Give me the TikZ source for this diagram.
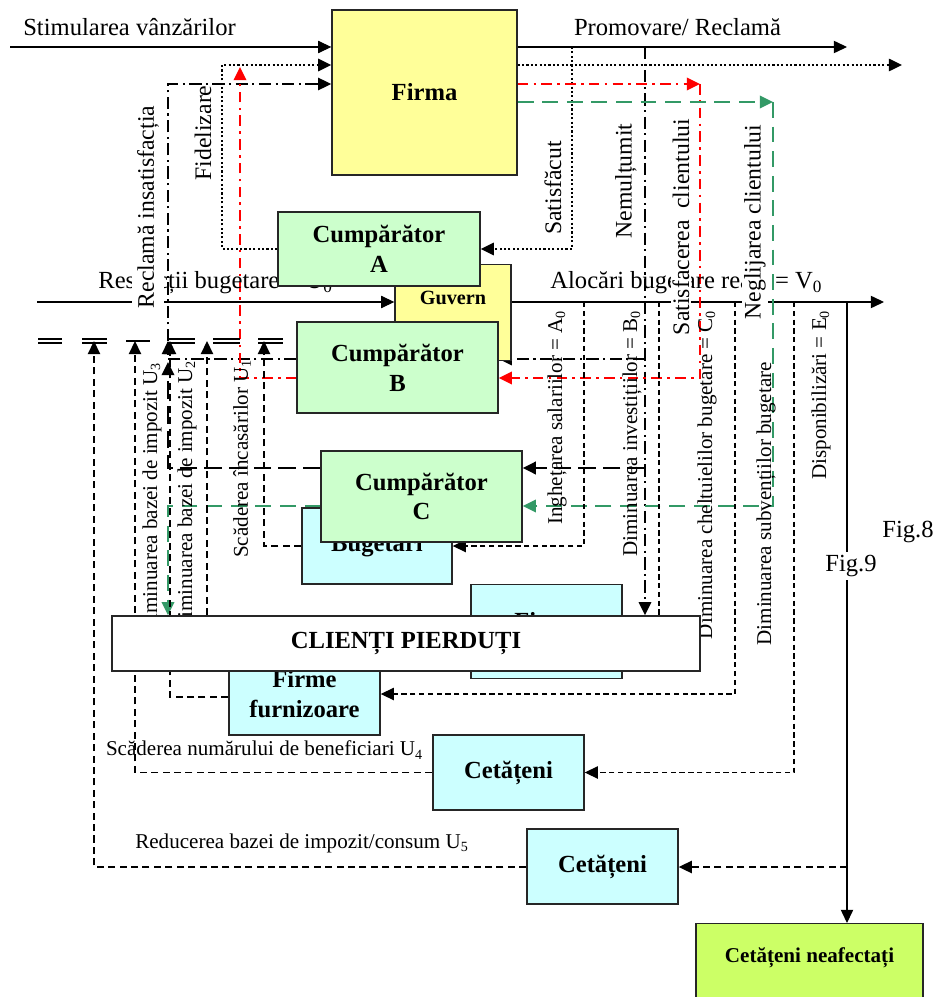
\documentclass[tikz,border=0pt]{standalone}
\usepackage{fontspec}
\setmainfont{Liberation Serif}
\usetikzlibrary{arrows.meta, backgrounds}
\definecolor{firmyellow}{RGB}{255,255,153}
\definecolor{buyergreen}{RGB}{204,255,204}
\definecolor{lostcyan}{RGB}{204,255,255}
\definecolor{safelime}{RGB}{204,255,102}
\definecolor{neglgreen}{RGB}{51,153,102}
\definecolor{satred}{RGB}{255,0,0}

\begin{document}
\begin{tikzpicture}[x=0.02cm, y=-0.02cm,
  bigtxt/.style={font=\fontsize{14}{16}\selectfont},
  smalltxt/.style={font=\fontsize{12}{14}\selectfont},
  vlbl/.style={rotate=90, inner sep=1pt, font=\fontsize{13.5}{15}\selectfont},
  vlblsm/.style={rotate=90, inner sep=1pt, font=\fontsize{12}{14}\selectfont},
  box/.style={draw=black!85, line width=0.8pt, align=center, font=\fontsize{14}{17}\selectfont\bfseries},
  ybox/.style={box, fill=firmyellow},
  gbox/.style={box, fill=buyergreen},
  cbox/.style={box, fill=lostcyan},
  tip/.style={-{Triangle[length=7.5pt, width=7pt]}},
  solidln/.style={line width=0.6pt},
  dotln/.style={line width=1.2pt, dash pattern=on 1.2pt off 1.3pt},
  dashdotln/.style={line width=1.2pt, dash pattern=on 7pt off 2.5pt on 1.2pt off 2.5pt},
  longdashln/.style={line width=1.6pt, dash pattern=on 10pt off 4pt},
  redln/.style={satred, line width=1.4pt, dash pattern=on 6pt off 3pt on 1.5pt off 3pt},
  greenln/.style={neglgreen, line width=1.5pt, dash pattern=on 9pt off 5pt},
  budgetln/.style={line width=0.7pt, dash pattern=on 3pt off 2pt},
  lossln/.style={line width=0.9pt, dash pattern=on 4pt off 2.5pt}
]
  \useasboundingbox (0,0) rectangle (933,997);

  % texts on the flows
  \node[bigtxt] (stimlbl) at (129.5,27) {Stimularea vânzărilor};
  \node[bigtxt] (promlbl) at (677.5,27) {Promovare/ Reclamă};
  \node[bigtxt, anchor=west, inner sep=0pt] (restrlbl) at (98,283) {Restricții bugetare = U\textsubscript{0}};
  \node[bigtxt, anchor=west, inner sep=0pt] (aloclbl) at (550,283) {Alocări bugetare reale = V\textsubscript{0}};
  \node[smalltxt] (u4lbl) at (264.5,750) {Scăderea numărului de beneficiari U\textsubscript{4}};
  \node[smalltxt] (u5lbl) at (302,843) {Reducerea bazei de impozit/consum U\textsubscript{5}};
  \node[bigtxt] (fig8) at (908,532) {Fig.8};

  \node[vlbl] (fidlbl) at (203,133) {Fidelizare};
  \node[vlbl] (satlbl) at (553,188) {Satisfăcut};
  \node[vlbl] (nemlbl) at (626,181) {Nemulțumit};
  \node[vlblsm, anchor=east] (a0lbl) at (557,308) {Inghețarea salariilor = A\textsubscript{0}};
  \node[vlblsm, anchor=east] (b0lbl) at (632,308) {Diminuarea investițiilor = B\textsubscript{0}};
  \node[vlblsm, anchor=east] (c0lbl) at (707,308) {Diminuarea cheltuielilor bugetare = C\textsubscript{0}};
  \node[vlblsm, anchor=east] (d0lbl) at (766,360) {Diminuarea subvențiilor bugetare};
  \node[vlblsm, anchor=east] (e0lbl) at (821,308) {Disponibilizări = E\textsubscript{0}};
  \node[vlblsm, anchor=east] (u3lbl) at (152,360) {Diminuarea bazei de impozit U\textsubscript{3}};
  \node[vlblsm, anchor=east] (u2lbl) at (187,358) {Diminuarea bazei de impozit U\textsubscript{2}};
  \node[vlblsm, anchor=east] (u1lbl) at (242,357) {Scăderea încasărilor U\textsubscript{1}};

  \node[vlbl, fill=white, inner sep=3pt] (reclbl) at (148,207) {Reclamă insatisfacția};
  \node[vlbl, fill=white] (sclbl) at (681,227) {Satisfacerea~ clientului};
  \node[vlbl, fill=white] (nclbl) at (755,222) {Neglijarea clientului};
  \node[bigtxt, fill=white, inner sep=2pt] (fig9) at (851,566) {Fig.9};

  % boxes
  \node[ybox, minimum width=3.7cm, minimum height=3.3cm] (firma) at (424.5,92.5) {Firma};
  \node[ybox, font=\fontsize{11.5}{13}\selectfont\bfseries, anchor=north, minimum width=2.32cm,
        inner ysep=0pt, text height=0.8cm, text depth=1.12cm] (guvern) at (453,264) {Guvern};
  \node[gbox, minimum width=4.04cm, minimum height=1.48cm] (cumpA) at (379,249) {Cumpărător\\A};
  \node[gbox, minimum width=4.02cm, minimum height=1.82cm] (cumpB) at (397.5,367.5) {Cumpărător\\B};
  \node[cbox, minimum width=3.0cm, minimum height=1.52cm] (bugetari) at (377,546) {Bugetari};
  \node[gbox, minimum width=4.02cm, minimum height=1.82cm] (cumpC) at (421.5,496.5) {Cumpărător\\C};
  \node[cbox, anchor=north, minimum width=3.02cm, inner ysep=0pt,
        text height=0.9cm, text depth=0.98cm] (firme) at (546.5,584) {Firme};
  \node[cbox, minimum width=3.02cm, minimum height=1.64cm] (furniz) at (304.5,694) {Firme\\furnizoare};
  \node[box, fill=white, minimum width=11.76cm, minimum height=1.1cm] (clienti) at (406,643.5) {CLIENȚI PIERDUȚI};
  \node[cbox, minimum width=3.02cm, minimum height=1.5cm] (cet1) at (508.5,772.5) {Cetățeni};
  \node[cbox, minimum width=3.02cm, minimum height=1.5cm] (cet2) at (602.5,866.5) {Cetățeni};
  \node[box, fill=safelime, font=\fontsize{12}{14}\selectfont\bfseries, anchor=north, minimum width=4.54cm,
        inner ysep=0pt, text height=0.78cm, text depth=0.9cm] (neafect) at (809.5,923) {Cetățeni neafectați};

  \begin{pgfonlayer}{background}
    % sales, promotion and budget
    \coordinate (stim) at (10,47);
    \coordinate (prom) at (847,47);
    \coordinate (restr) at (37,302);
    \coordinate (aloc) at (884,302);
    \draw[solidln, tip] (stim) -- (stim -| firma.west);
    \draw[solidln, tip] (firma.east |- prom) -- (prom);
    \draw[solidln, tip] (restr) -- (restr -| guvern.west);
    \draw[solidln, tip] (guvern.east |- aloc) -- (aloc);

    % loyalty
    \coordinate (dotend) at (902,65);
    \coordinate (fidc) at (222,65);
    \coordinate (satc) at (572,47);
    \draw[dotln, tip] (firma.east |- dotend) -- (dotend);
    \draw[dotln, tip] (cumpA.west) -| (fidc) -- (fidc -| firma.west);
    \draw[dotln, tip] (satc) |- (cumpA.east);

    % dissatisfaction
    \coordinate (recc) at (168,84);
    \coordinate (eqc) at (168,341);
    \coordinate (recB) at (168,359);
    \coordinate (recC) at (168,468);
    \coordinate (recCt) at (168,362);
    \draw[dashdotln, line width=0.9pt, tip] (eqc) -- (recc) -- (recc -| firma.west);
    \draw[dashdotln, line width=0.9pt, tip] (recB -| cumpB.west) -- (recB) -- (eqc);
    \draw[longdashln, tip] (recC -| cumpC.west) -- (recC) -- (recCt);
    \coordinate (nemc) at (645,47);
    \coordinate (nemB) at (645,359);
    \coordinate (nemC) at (645,468);
    \draw[dashdotln, tip] (nemc) -- (nemc |- clienti.north);
    \draw[dashdotln, tip] (nemB) -- (nemB -| cumpB.east);
    \draw[longdashln, tip] (nemC) -- (nemC -| cumpC.east);

    % satisfaction
    \coordinate (redc) at (700,84);
    \coordinate (redB) at (700,378);
    \coordinate (redL) at (240,378);
    \coordinate (redT) at (240,67);
    \draw[redln, tip] (firma.east |- redc) -- (redc);
    \draw[redln, tip] (redc) -- (redB) -- (redB -| cumpB.east);
    \draw[redln, tip] (redL -| cumpB.west) -- (redL) -- (redT);

    % neglect
    \coordinate (grc) at (773,102);
    \coordinate (grC) at (773,506);
    \coordinate (grL) at (168,506);
    \draw[greenln, tip] (firma.east |- grc) -- (grc);
    \draw[greenln, tip] (grc) -- (grC) -- (grC -| cumpC.east);
    \draw[greenln, tip] (grL -| cumpC.west) -- (grL) -- (grL |- clienti.north);

    % broken double line
    \foreach \xa/\xb in {38/62, 82/107, 167/195, 213/240, 258/283}
      \draw[solidln] (\xa,339) -- (\xb,339) (\xa,343) -- (\xb,343);
    \draw[solidln] (126,341) -- (150,341);

    % losses
    \coordinate (u5) at (94,867);
    \coordinate (u5t) at (94,341);
    \coordinate (u4t) at (135,341);
    \coordinate (u2) at (170,697);
    \coordinate (u2t) at (170,341);
    \coordinate (u3t) at (207,341);
    \coordinate (u1t) at (264,341);
    \draw[lossln, tip] (u5 -| cet2.west) -- (u5) -- (u5t);
    \draw[lossln, tip] (cet1.west) -| (u4t);
    \draw[lossln, tip] (u2 -| furniz.west) -- (u2) -- (u2t);
    \draw[lossln, tip] (u3t |- clienti.north) -- (u3t);
    \draw[lossln, tip] (bugetari.west) -| (u1t);

    % budget cuts
    \coordinate (a0) at (584,302);
    \coordinate (b0) at (659,302);
    \coordinate (c0) at (735,302);
    \coordinate (e0) at (794,302);
    \coordinate (v0) at (847,302);
    \coordinate (cetc) at (847,867);
    \draw[budgetln, tip] (a0) |- (bugetari.east);
    \draw[budgetln, tip] (b0) |- (firme.east);
    \draw[budgetln, tip] (c0) |- (furniz.east);
    \draw[budgetln, tip] (e0) |- (cet1.east);
    \draw[solidln, tip] (v0) -- (v0 |- neafect.north);
    \draw[lossln, tip] (cetc) -- (cetc -| cet2.east);
  \end{pgfonlayer}
\end{tikzpicture}
\end{document}
